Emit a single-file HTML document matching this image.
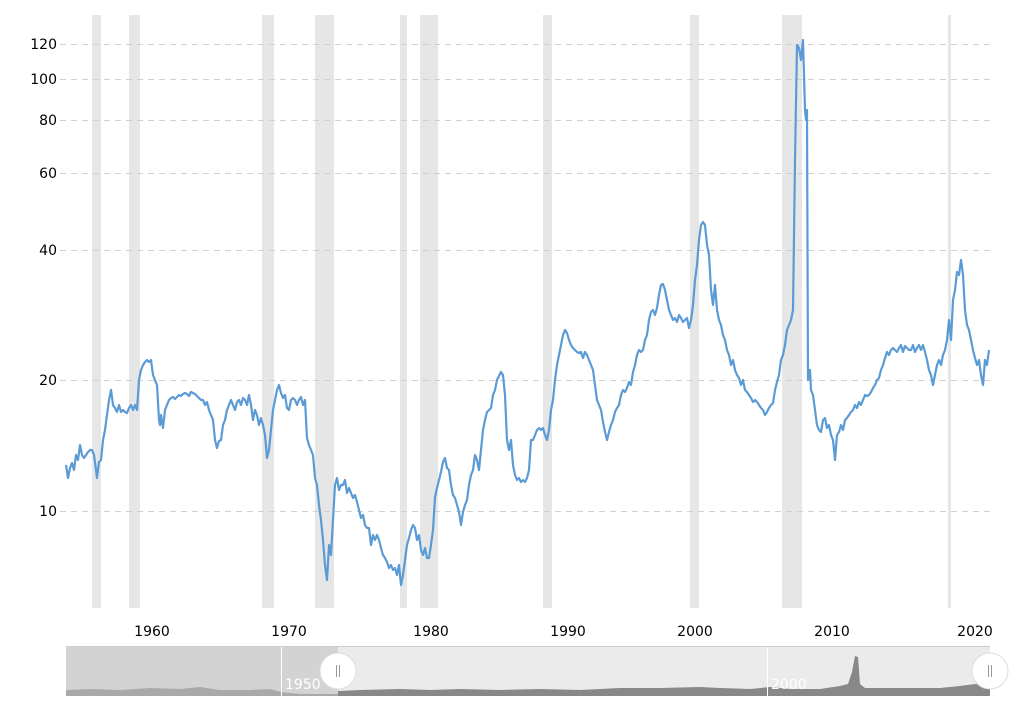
<!DOCTYPE html>
<html><head><meta charset="utf-8"><style>
html,body{margin:0;padding:0;background:#fff;}
svg{display:block;font-family:"DejaVu Sans","Liberation Sans",sans-serif;}
</style></head><body>
<svg width="1025" height="707" viewBox="0 0 1025 707" xmlns="http://www.w3.org/2000/svg">
<g fill="#e6e6e6">
<rect x="92" y="15" width="9" height="593"/>
<rect x="129" y="15" width="11" height="593"/>
<rect x="262" y="15" width="12" height="593"/>
<rect x="315" y="15" width="19" height="593"/>
<rect x="400" y="15" width="7" height="593"/>
<rect x="420" y="15" width="18" height="593"/>
<rect x="543" y="15" width="9" height="593"/>
<rect x="690" y="15" width="9" height="593"/>
<rect x="782" y="15" width="20" height="593"/>
<rect x="948" y="15" width="3" height="593"/>
</g>
<g stroke="#d0d0d0" stroke-dasharray="6,5" stroke-width="1">
<line x1="60" y1="44.5" x2="990" y2="44.5"/>
<line x1="60" y1="79.5" x2="990" y2="79.5"/>
<line x1="60" y1="120.5" x2="990" y2="120.5"/>
<line x1="60" y1="173.5" x2="990" y2="173.5"/>
<line x1="60" y1="250.5" x2="990" y2="250.5"/>
<line x1="60" y1="380.5" x2="990" y2="380.5"/>
<line x1="60" y1="511.5" x2="990" y2="511.5"/>
</g>
<g font-size="14" fill="#000" text-anchor="end">
<text x="57" y="49">120</text>
<text x="57" y="84">100</text>
<text x="57" y="125">80</text>
<text x="57" y="178">60</text>
<text x="57" y="255">40</text>
<text x="57" y="385">20</text>
<text x="57" y="516">10</text>
</g>
<g font-size="14" fill="#000" text-anchor="middle">
<text x="152" y="636">1960</text>
<text x="289" y="636">1970</text>
<text x="431" y="636">1980</text>
<text x="568" y="636">1990</text>
<text x="695" y="636">2000</text>
<text x="832" y="636">2010</text>
<text x="975" y="636">2020</text>
</g>
<polyline fill="none" stroke="#5b9bd5" stroke-width="2.2" stroke-linejoin="round" points="66,465 68,478 70,468 72,463 74,470 76,455 78,460 80,445 82,455 84,458 86,455 88,452 90,450 92,450 94,455 96,470 97,478 99,462 101,460 103,440 105,430 107,415 109,400 111,390 113,405 115,408 117,412 119,405 121,412 123,410 125,412 127,413 129,408 131,405 133,410 135,405 137,410 139,380 141,370 143,365 145,362 147,360 149,362 151,360 153,375 155,380 157,385 159,420 160,425 161,415 163,428 165,410 167,405 169,400 171,398 173,397 175,399 177,397 179,395 181,396 183,394 185,393 187,394 189,396 191,392 193,393 195,394 197,396 199,398 201,400 203,400 205,405 207,402 209,410 211,415 213,420 215,440 217,448 219,441 221,440 223,425 225,420 227,410 229,405 231,400 233,405 235,410 237,402 239,400 241,405 243,398 245,400 247,405 249,395 251,405 253,420 255,410 257,415 259,425 261,418 263,425 265,435 267,458 269,450 271,430 273,410 275,400 277,390 279,385 281,393 283,398 285,395 287,408 289,410 291,400 293,398 295,400 297,405 299,400 301,397 303,405 305,400 307,438 309,445 311,450 313,455 315,478 317,485 319,505 321,520 323,540 325,565 327,580 329,545 331,555 333,520 335,485 337,478 339,490 341,485 343,485 345,480 347,493 349,488 351,493 353,498 355,495 357,502 359,510 361,518 363,515 365,525 367,528 369,528 371,545 373,535 375,540 377,535 379,540 381,548 383,555 385,558 387,562 389,568 391,565 393,570 395,568 397,575 399,565 401,585 403,575 405,560 407,545 409,538 411,530 413,525 415,528 417,540 419,535 421,550 423,555 425,548 427,558 429,558 431,545 433,530 435,497 437,488 439,480 441,472 443,462 445,458 447,468 449,470 451,485 453,495 455,498 457,505 459,512 461,525 463,512 465,505 467,500 469,485 471,475 473,470 475,455 477,460 479,470 481,450 483,430 485,420 487,412 489,410 491,408 493,395 495,390 497,380 499,376 501,372 503,375 505,395 507,440 509,450 511,440 513,465 515,475 517,480 519,478 521,482 523,480 525,482 527,478 529,470 531,440 533,440 535,435 537,430 539,428 541,430 543,428 545,435 547,440 549,430 551,410 553,400 555,380 557,365 559,355 561,345 563,335 565,330 567,333 569,340 571,345 573,348 575,350 577,352 579,353 581,352 583,358 585,352 587,355 589,360 591,365 593,370 595,385 597,400 599,405 601,410 603,422 605,432 607,440 609,432 611,425 613,420 615,412 617,408 619,405 621,395 623,390 625,392 627,388 629,382 631,385 633,372 635,365 637,355 639,350 641,352 643,350 645,340 647,335 649,320 651,312 653,310 655,315 657,308 659,295 661,285 663,284 665,290 667,300 669,310 671,315 673,320 675,318 677,322 679,315 681,318 683,322 685,320 687,318 689,328 691,320 693,305 695,280 697,265 699,240 701,225 703,222 705,225 707,245 709,255 711,290 713,305 715,285 717,310 719,320 721,325 723,335 725,340 727,350 729,355 731,365 733,360 735,370 737,375 739,378 741,385 743,380 745,390 747,392 749,395 751,398 753,402 755,400 757,402 759,405 761,408 763,410 765,415 767,412 769,408 771,405 773,403 775,390 777,382 779,375 781,360 783,355 785,345 787,330 789,325 791,320 793,310 795,160 797,45 799,48 801,60 803,40 805,110 806,120 807,110 808,380 810,370 811,390 813,395 815,410 817,425 819,430 821,432 823,420 825,418 827,428 829,425 831,435 833,440 835,460 837,435 839,432 841,425 843,430 845,420 847,418 849,415 851,412 853,410 855,405 857,408 859,402 861,405 863,400 865,395 867,396 869,395 871,392 873,388 875,385 877,380 879,378 881,370 883,365 885,358 887,352 889,355 891,350 893,348 895,350 897,352 899,348 901,345 903,352 905,346 907,348 909,350 911,350 913,345 915,352 917,348 919,345 921,350 923,345 925,352 927,360 929,370 931,375 933,385 935,375 937,365 939,360 941,365 943,355 945,350 947,340 949,320 951,340 953,300 955,290 957,272 959,275 961,260 963,275 965,310 967,325 969,330 971,340 973,350 975,358 977,365 979,360 981,375 983,385 985,360 987,365 989,350"/>
<rect x="66" y="646" width="924" height="50" fill="#ebebeb"/>
<rect x="66" y="646" width="272" height="50" fill="#d3d3d3"/>
<polygon fill="#a9a9a9" points="66,696 66,690 90,689 120,690 150,688 180,689 200,687 220,690 250,690 270,689 281,692 300,694 338,694 338,696"/>
<polygon fill="#888" points="338,696 338,691 360,690 400,689 430,690 460,689 500,690 540,689 580,690 620,688 660,688 700,687 720,688 750,689 770,687 790,689 820,689 840,686 848,684 852,672 855,656 858,657 860,684 865,688 900,688 940,688 960,686 975,684 990,686 990,696"/>
<line x1="281.5" y1="646" x2="281.5" y2="696" stroke="#fff" stroke-width="1"/>
<line x1="767.5" y1="646" x2="767.5" y2="696" stroke="#fff" stroke-width="1"/>
<text x="285" y="689" font-size="14" fill="#fff">1950</text>
<text x="771" y="689" font-size="14" fill="#fff">2000</text>
<line x1="66" y1="646.5" x2="990" y2="646.5" stroke="#ccc"/>
<circle cx="338" cy="671" r="18" fill="#fff" stroke="#ddd"/>
<line x1="336.5" y1="665" x2="336.5" y2="677" stroke="#999"/>
<line x1="339.5" y1="665" x2="339.5" y2="677" stroke="#999"/>
<circle cx="990" cy="671" r="18" fill="#fff" stroke="#ddd"/>
<line x1="988.5" y1="665" x2="988.5" y2="677" stroke="#999"/>
<line x1="991.5" y1="665" x2="991.5" y2="677" stroke="#999"/>
</svg>
</body></html>
